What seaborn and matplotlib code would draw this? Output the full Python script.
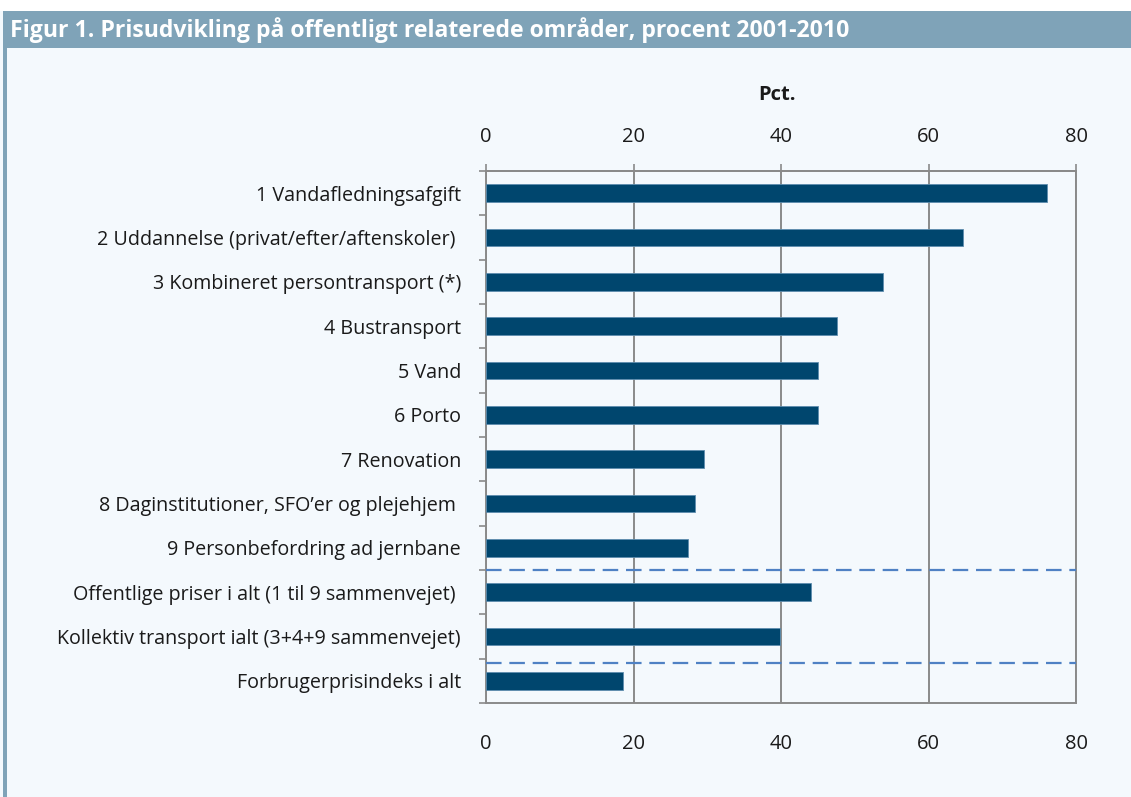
import matplotlib
matplotlib.use("Agg")
import matplotlib.pyplot as plt
import pandas as pd
import seaborn as sns
from matplotlib.patches import Rectangle

CATEGORIES = [
    "1 Vandafledningsafgift",
    "2 Uddannelse (privat/efter/aftenskoler) ",
    "3 Kombineret persontransport (*)",
    "4 Bustransport",
    "5 Vand",
    "6 Porto",
    "7 Renovation",
    "8 Daginstitutioner, SFO\u2019er og plejehjem ",
    "9 Personbefordring ad jernbane",
    "Offentlige priser i alt (1 til 9 sammenvejet) ",
    "Kollektiv transport ialt (3+4+9 sammenvejet)",
    "Forbrugerprisindeks i alt",
]
VALUES = [76.0, 64.7, 53.8, 47.6, 45.0, 45.0, 29.5, 28.4, 27.4, 44.0, 39.8, 18.6]
X_TICKS = [0, 20, 40, 60, 80]
SEPARATORS = [8.5, 10.6]

TITLE = "Figur 1. Prisudvikling på offentligt relaterede områder, procent 2001-2010"
BG = "#F4F9FD"
BAND = "#7FA3B8"
BAR = "#00466E"
GRID = "#8A8A8A"
INK = "#1A1A1A"

sns.set_theme(style="white")
plt.rcParams["font.family"] = ["Open Sans", "DejaVu Sans"]

df = pd.DataFrame({"label": CATEGORIES, "value": VALUES})

fig = plt.figure(figsize=(11.31, 7.97), dpi=100, facecolor=BG)
# white strip on top, title band, left border
fig.patches.append(Rectangle((0, 1 - 11 / 797), 1, 11 / 797, transform=fig.transFigure,
                             facecolor="white", edgecolor="none", zorder=0))
fig.patches.append(Rectangle((3 / 1131, 1 - 48 / 797), 1, 37 / 797, transform=fig.transFigure,
                             facecolor=BAND, edgecolor="none", zorder=0))
fig.patches.append(Rectangle((3 / 1131, 0), 4 / 1131, 1 - 48 / 797, transform=fig.transFigure,
                             facecolor=BAND, edgecolor="none", zorder=0))
fig.text(10 / 1131, 1 - 30 / 797, TITLE, color="white", fontsize=16.6, fontweight="bold",
         va="center", ha="left")

ax = fig.add_axes([486 / 1131, 1 - 703 / 797, 590 / 1131, 532 / 797])
ax.set_facecolor(BG)
sns.barplot(data=df, x="value", y="label", orient="h", color=BAR, saturation=1, width=0.4,
            edgecolor="#5E8DAE", linewidth=0.6, ax=ax, zorder=3)

ax.set_xlim(0, 80)
ax.set_xticks(X_TICKS)
ax.grid(axis="x", color=GRID, linewidth=1.4, zorder=1)
ax.grid(axis="y", visible=False)
for y in SEPARATORS:
    ax.axhline(y, color="#4F81C4", linewidth=1.6, dashes=(7, 3.5), zorder=4)

ax.set_xlabel("")
ax.set_ylabel("")
ax.set_yticks([i - 0.5 for i in range(len(CATEGORIES) + 1)], minor=True)
ax.tick_params(axis="y", which="major", length=0, pad=18, labelsize=14.2, labelcolor=INK)
ax.tick_params(axis="y", which="minor", left=True, length=5, width=1.2, color=GRID)
ax.tick_params(axis="x", which="major", length=5, width=1.2, color=GRID, pad=17,
               labelsize=14.5, labelcolor=INK)

top = ax.secondary_xaxis("top")
top.set_xticks(X_TICKS)
top.tick_params(length=5, width=1.2, color=GRID, pad=12, labelsize=14.5, labelcolor=INK)
top.spines["top"].set_color(GRID)
top.spines["top"].set_linewidth(1.4)

for side in ["top", "bottom", "left", "right"]:
    ax.spines[side].set_visible(True)
    ax.spines[side].set_color(GRID)
    ax.spines[side].set_linewidth(1.4)

fig.text(777 / 1131, 1 - 95 / 797, "Pct.", fontsize=14.5, fontweight="bold",
         ha="center", va="center", color=INK)

fig.savefig("out.png", dpi=100, facecolor=BG)
